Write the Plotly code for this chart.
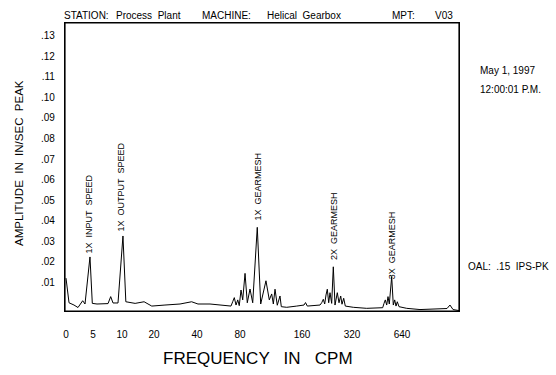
import numpy as np
import plotly.graph_objects as go

# ---- data ----
tick_cpm = [0, 5, 10, 20, 40, 80, 160, 320, 640]
tick_labels = ["0", "5", "10", "20", "40", "80", "160", "320", "640"]
y_tick_vals = [0.01, 0.02, 0.03, 0.04, 0.05, 0.06, 0.07, 0.08, 0.09, 0.10, 0.11, 0.12, 0.13]
y_tick_labels = [".01", ".02", ".03", ".04", ".05", ".06", ".07", ".08", ".09", ".10", ".11", ".12", ".13"]

freq_cpm = [0, 0.56, 1.48, 2.22, 3.09, 3.52, 4.44, 4.87, 5.69, 7.59, 8.05, 8.45, 9.31, 10.3, 11.2,
            14.1, 16.9, 19.3, 25.1, 32.1, 37.5, 40.9, 52.1, 71.6, 73.2, 74.7, 76.3, 77.9, 79.3, 81.3,
            83.5, 86.5, 89.4, 92.9, 96.4, 102.3, 106.7, 113.5, 117.8, 120.9, 123.0, 125.2, 128.1,
            131.6, 133.3, 140.3, 153.2, 166.4, 171.2, 177, 217.6, 223, 228.2, 232.6, 236.8, 241,
            245.4, 249.6, 255, 260.2, 265.6, 273, 278.4, 283.8, 288, 293.4, 298.6, 328.3, 414, 516.5,
            524.8, 533.1, 542.1, 550.4, 558.7, 574.1, 584.3, 593.3, 601.6, 609.9, 620.8, 700, 870,
            1165, 1216, 1254, 1306, 1459]
amp_ips = [0.0160, 0.0040, 0.0029, 0.0017, 0.0050, 0.0034, 0.0263, 0.0037, 0.0034, 0.0036, 0.0070,
           0.0039, 0.0039, 0.0365, 0.0045, 0.0037, 0.0045, 0.0024, 0.0029, 0.0034, 0.0045, 0.0034,
           0.0034, 0.0024, 0.0045, 0.0065, 0.0029, 0.0054, 0.0026, 0.0102, 0.0054, 0.0183, 0.0040,
           0.0107, 0.0040, 0.0407, 0.0034, 0.0147, 0.0054, 0.0083, 0.0034, 0.0106, 0.0028, 0.0073,
           0.0021, 0.0018, 0.0024, 0.0029, 0.0041, 0.0024, 0.0029, 0.0040, 0.0057, 0.0034, 0.0078,
           0.0106, 0.0040, 0.0089, 0.0037, 0.0215, 0.0029, 0.0089, 0.0040, 0.0073, 0.0033, 0.0062,
           0.0024, 0.0018, 0.0013, 0.0016, 0.0037, 0.0054, 0.0029, 0.0070, 0.0034, 0.0167, 0.0029,
           0.0054, 0.0024, 0.0045, 0.0021, 0.0013, 0.0007, 0.0010, 0.0012, 0.0029, 0.0007, 0.0002]

peak_labels = ["1X  INPUT  SPEED", "1X  OUTPUT  SPEED", "1X  GEARMESH", "2X  GEARMESH", "3X  GEARMESH"]
peak_cpm = [4.44, 10.3, 102.3, 260.2, 574.1]

# ---- the chart's non-uniform frequency scale (axis units) ----
scale_cpm = tick_cpm + [1280, 2560]
scale_units = [1, 28, 57, 89, 132, 175, 237, 287, 337, 387, 437]


def to_axis(f):
    return np.interp(f, scale_cpm, scale_units)


# ---- layout geometry ----
W, H = 556, 375
L, R, T, B = 65, 97, 23, 64
PW, PH = W - L - R, H - T - B


def px(x):
    return (x - L) / PW


def py(y):
    return (H - B - y) / PH


FONT = "Liberation Sans, Arial, sans-serif"

fig = go.Figure()
fig.add_trace(go.Scatter(x=to_axis(freq_cpm), y=amp_ips, mode="lines",
                         line=dict(color="black", width=1), hoverinfo="skip"))

ann = []
yshifts = [2, 3, 5, 5, -5]
xshifts = [-1, -1, 1, 0, 0]
for lab, f, xs, ys in zip(peak_labels, peak_cpm, xshifts, yshifts):
    i = int(np.argmin(np.abs(np.array(freq_cpm) - f)))
    ann.append(dict(x=float(to_axis(freq_cpm[i])), y=amp_ips[i], xref="x", yref="y", text=lab,
                    textangle=-90, showarrow=False, xanchor="center", yanchor="bottom",
                    xshift=xs, yshift=ys, font=dict(size=9, color="black", family=FONT)))

header = [("STATION:", 62), ("Process  Plant", 114), ("MACHINE:", 200), ("Helical  Gearbox", 265),
          ("MPT:", 390), ("V03", 433)]
for t, x in header:
    ann.append(dict(x=px(x), y=py(15), xref="paper", yref="paper", text=t, showarrow=False,
                    xanchor="left", yanchor="middle", font=dict(size=10, color="black", family=FONT)))

side = [("May 1, 1997", 478, 71), ("12:00:01 P.M.", 478, 90), ("OAL:  .15  IPS-PK", 466, 266)]
for t, x, y in side:
    ann.append(dict(x=px(x), y=py(y), xref="paper", yref="paper", text=t, showarrow=False,
                    xanchor="left", yanchor="middle", font=dict(size=10, color="black", family=FONT)))

ann.append(dict(x=px(19), y=py(163), xref="paper", yref="paper", text="AMPLITUDE  IN  IN/SEC  PEAK",
                textangle=-90, showarrow=False, xanchor="center", yanchor="middle",
                font=dict(size=11.5, color="black", family=FONT)))
ann.append(dict(x=px(258), y=py(358), xref="paper", yref="paper", text="FREQUENCY   IN   CPM",
                showarrow=False, xanchor="center", yanchor="middle",
                font=dict(size=17, color="black", family=FONT)))

fig.update_layout(
    width=W, height=H, margin=dict(l=L, r=R, t=T, b=B),
    paper_bgcolor="white", plot_bgcolor="white", showlegend=False,
    font=dict(family=FONT, color="black"),
    annotations=ann,
    shapes=[dict(type="rect", xref="paper", yref="paper", x0=0, y0=0, x1=1, y1=1,
                 line=dict(color="black", width=1.2), layer="above")],
    xaxis=dict(range=[0, PW], tickvals=list(to_axis(tick_cpm)), ticktext=tick_labels,
               showline=True, mirror=True, linecolor="black", linewidth=1.2, ticks="",
               showgrid=False, zeroline=False, ticklabelstandoff=14,
               tickfont=dict(size=10, family=FONT, color="black")),
    yaxis=dict(range=[0, 0.1401], tickvals=y_tick_vals, ticktext=y_tick_labels,
               showline=True, mirror=True, linecolor="black", linewidth=1.2, ticks="",
               showgrid=False, zeroline=False, ticklabelstandoff=7, ticklabelshift=-8,
               tickfont=dict(size=10, family=FONT, color="black")),
)

fig.write_html("out.html", config={"displayModeBar": False},
               post_script="document.body.style.margin='0';")
